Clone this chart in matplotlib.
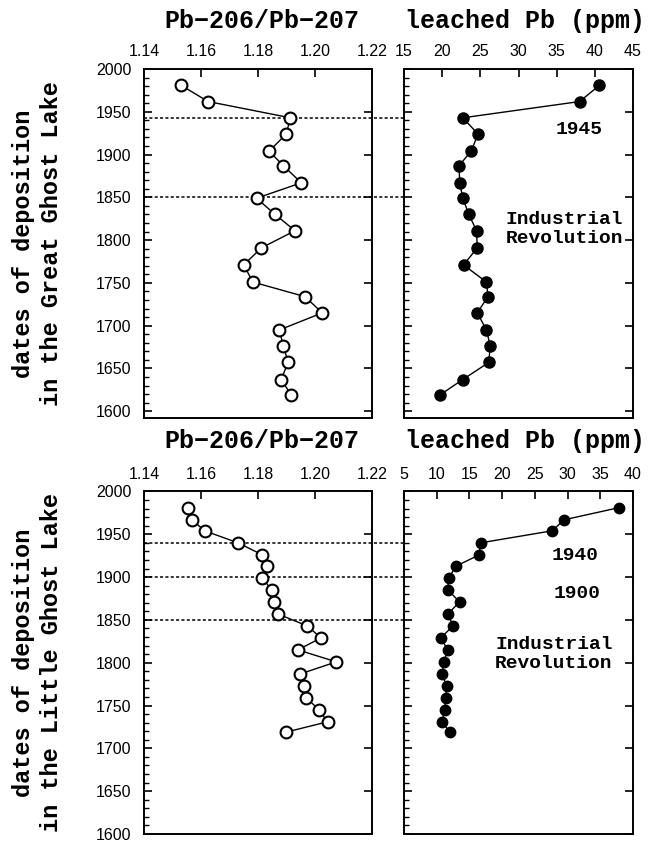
import matplotlib.pyplot as plt
from matplotlib.ticker import MultipleLocator

# Great Ghost Lake (top)
great_dates = [1981, 1962, 1943, 1924, 1904, 1887, 1867, 1849, 1830, 1811,
               1791, 1771, 1751, 1734, 1715, 1695, 1676, 1657, 1637, 1619]
great_ratio = [1.153, 1.1625, 1.1914, 1.1899, 1.1839, 1.1889, 1.1952, 1.1795, 1.186, 1.193,
               1.1812, 1.175, 1.1782, 1.1964, 1.2026, 1.1875, 1.1889, 1.1906, 1.1881, 1.1917]
great_pb = [40.6, 38.0, 22.7, 24.7, 23.8, 22.2, 22.3, 22.7, 23.5, 24.5,
            24.6, 22.8, 25.8, 26.0, 24.6, 25.8, 26.3, 26.1, 22.7, 19.7]
great_events = [1943, 1850]

# Little Ghost Lake (bottom)
little_dates = [1981, 1967, 1954, 1940, 1926, 1913, 1899, 1885, 1871, 1857,
                1843, 1829, 1815, 1801, 1787, 1773, 1759, 1745, 1731, 1719]
little_ratio = [1.1556, 1.1568, 1.1613, 1.173, 1.1815, 1.1833, 1.1815, 1.1848, 1.1857, 1.1869,
                1.1973, 1.2021, 1.194, 1.2075, 1.1949, 1.1961, 1.197, 1.2014, 1.2044, 1.1899]
little_pb = [37.8, 29.5, 27.6, 16.7, 16.5, 13.0, 11.8, 11.7, 13.5, 11.7,
             12.5, 10.6, 11.7, 11.1, 10.8, 11.5, 11.4, 11.2, 10.8, 12.0]
little_events = [1940, 1900, 1850]

mono = 'Liberation Mono'
sans = 'Liberation Sans'

fig = plt.figure(figsize=(6.51, 8.43), dpi=100)

# axes positions (figure fractions)
ax_gl = fig.add_axes([0.2212, 0.5041, 0.3502, 0.4140])
ax_gr = fig.add_axes([0.6206, 0.5041, 0.3518, 0.4140])
ax_ll = fig.add_axes([0.2212, 0.0107, 0.3502, 0.4063])
ax_lr = fig.add_axes([0.6206, 0.0107, 0.3518, 0.4063])


def style(ax, xlim, xstep, ylim, show_y):
    ax.set_xlim(*xlim)
    ax.set_ylim(*ylim)
    ax.xaxis.set_major_locator(MultipleLocator(xstep))
    ax.yaxis.set_major_locator(MultipleLocator(50))
    ax.yaxis.set_minor_locator(MultipleLocator(10))
    ax.xaxis.tick_top()
    ax.tick_params(axis='x', which='both', direction='in', top=True, bottom=False,
                   labeltop=True, labelbottom=False, length=6, width=1.2, pad=7,
                   labelsize=11.5)
    ax.tick_params(axis='y', which='major', direction='in', left=True, right=True,
                   labelleft=show_y, length=6, width=1.2, pad=9, labelsize=11.5)
    ax.tick_params(axis='y', which='minor', direction='in', left=True, right=False,
                   length=3.5, width=1.0)
    for lab in ax.get_xticklabels() + ax.get_yticklabels():
        lab.set_fontfamily(sans)
    for s in ax.spines.values():
        s.set_linewidth(1.4)


style(ax_gl, (1.14, 1.22), 0.02, (1592, 2000), True)
style(ax_gr, (15, 45), 5, (1592, 2000), False)
style(ax_ll, (1.14, 1.22), 0.02, (1600, 2000), True)
style(ax_lr, (5, 40), 5, (1600, 2000), False)

for ax in (ax_gl, ax_ll):
    ax.xaxis.set_major_formatter(plt.FuncFormatter(lambda v, p: '%.2f' % v))

# data
ax_gl.plot(great_ratio, great_dates, '-o', color='black', lw=1.0, ms=8.5,
           mfc='white', mec='black', mew=1.5)
ax_gr.plot(great_pb, great_dates, '-o', color='black', lw=1.0, ms=8, mfc='black')
ax_ll.plot(little_ratio, little_dates, '-o', color='black', lw=1.0, ms=8.5,
           mfc='white', mec='black', mew=1.5)
ax_lr.plot(little_pb, little_dates, '-o', color='black', lw=1.0, ms=7.5, mfc='black')

# event lines spanning both panels
span = (0.6206 + 0.3518 - 0.2212) / 0.3502
for yr in great_events:
    ax_gl.axhline(yr, xmin=0, xmax=span, color='black', lw=1.1,
                  ls=(0, (2, 1.5)), clip_on=False, zorder=1)
for yr in little_events:
    ax_ll.axhline(yr, xmin=0, xmax=span, color='black', lw=1.1,
                  ls=(0, (2, 1.5)), clip_on=False, zorder=1)

# annotations
txt = dict(family=mono, fontsize=14, fontweight='bold', ha='center', va='center')
ax_gr.text(37.9, 1929, '1945', **txt)
ax_gr.text(36.0, 1813, 'Industrial\nRevolution', linespacing=1.15, **txt)
ax_lr.text(31.1, 1925, '1940', **txt)
ax_lr.text(31.5, 1881, '1900', **txt)
ax_lr.text(27.9, 1810, 'Industrial\nRevolution', linespacing=1.2, **txt)

# panel titles
ttl = dict(family=mono, fontsize=18, fontweight='bold', ha='center', va='center')
fig.text(0.4025, 0.975, 'Pb\u2212206/Pb\u2212207', **ttl)
fig.text(0.806, 0.975, 'leached Pb (ppm)', **ttl)
fig.text(0.4025, 0.477, 'Pb\u2212206/Pb\u2212207', **ttl)
fig.text(0.806, 0.477, 'leached Pb (ppm)', **ttl)

# y labels
ylab = dict(family=mono, fontsize=17, fontweight='bold', rotation=90, ha='center',
            va='center', multialignment='center', linespacing=1.3)
fig.text(0.0576, 0.5041 + 0.4140 / 2, 'dates of deposition\nin the Great Ghost Lake', **ylab)
fig.text(0.0576, 0.0107 + 0.4063 / 2, 'dates of deposition\nin the Little Ghost Lake', **ylab)

fig.savefig('out.png', dpi=100)
